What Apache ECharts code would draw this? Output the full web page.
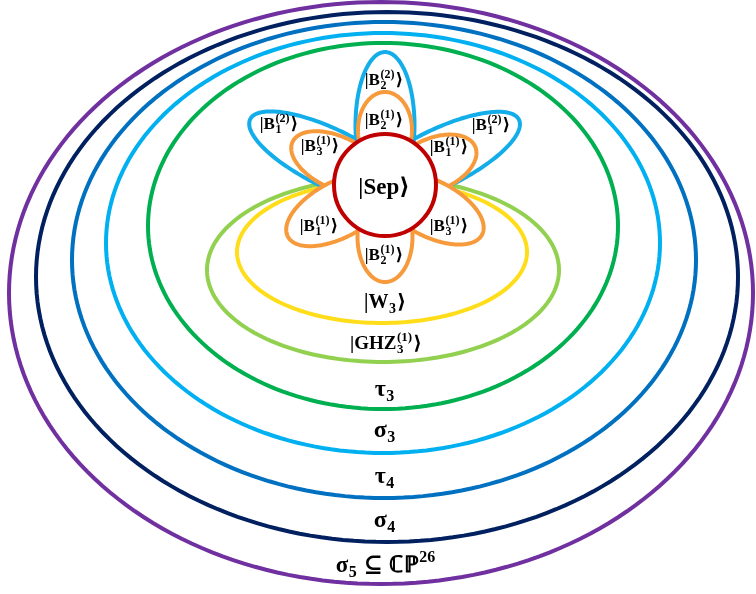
<!DOCTYPE html>
<html><head><meta charset="utf-8">
<script src="https://cdn.jsdelivr.net/npm/echarts@6/dist/echarts.min.js"></script>
<style>html,body{margin:0;padding:0;background:#fff}#c{width:756px;height:594px}</style>
</head><body><div id="c"></div>
<script>
// ---- Nested sets, outer to inner (diagram units: centre x/y, semi-axes) ----
const ringNames = ['σ5', 'σ4', 'τ4', 'σ3', 'τ3', 'GHZ3(1)', 'W3'];
const ringCX = [381, 387, 384, 383, 383, 383, 382];
const ringCY = [293, 277, 260, 243, 226, 270, 252];
const ringRX = [372, 351, 312, 277, 235, 176, 145];
const ringRY = [291, 265, 238, 210, 183, 92, 71];

// ---- Separable core |Sep> ----
const coreCenter = [385, 185];
const coreRadius = [51];

// ---- Petals: direction (deg, screen), centre distance from core, semi-axes, level ----
const petalAngle = [-154, -26, -90, -90, -155, -23, 152, 90, 27];
const petalDist  = [60, 60, 60, 55, 53, 53, 52, 52, 52];
const petalA     = [90, 89, 73, 38, 49, 45, 58, 45, 57];
const petalB     = [29, 29, 29.5, 27, 26, 26, 28, 27.5, 28];
const petalLevel = [2, 2, 2, 1, 1, 1, 1, 1, 1];

// ---- Labels (markup: _{sub} ^{sup}) ----
const labelTexts = ['|Sep⟩', '|B_{2}^{(2)}⟩', '|B_{2}^{(1)}⟩', '|B_{1}^{(2)}⟩', '|B_{1}^{(2)}⟩',
  '|B_{3}^{(1)}⟩', '|B_{1}^{(1)}⟩', '|B_{1}^{(1)}⟩', '|B_{2}^{(1)}⟩', '|B_{3}^{(1)}⟩',
  '|W_{3}⟩', '|GHZ_{3}^{(1)}⟩', 'τ_{3}', 'σ_{3}', 'τ_{4}', 'σ_{4}', 'σ_{5} ⊆ ℂℙ^{26}'];
const labelX = [384, 384, 384, 279, 491, 320, 449, 319, 384, 449, 385, 386, 385, 385, 385, 385, 386];
const labelY = [188, 81, 121, 125, 126, 147, 148, 227, 256, 227, 303, 344, 390, 431, 477, 521, 566];

// ---- styles ----
const ringColors = ['#7030A0', '#002060', '#0070C0', '#00B0F0', '#00B050', '#92D050', '#FFDD1A'];
const levelColors = {1: '#F79A3C', 2: '#13AEEA'};
const coreColor = '#C00000';
const labelSizes = [23, 17, 17, 17, 17, 17, 17, 17, 17, 17, 20, 19, 24, 24, 24, 24, 23];
const FONT = '"Liberation Serif", "DejaVu Serif", serif';

const ringData = ringCX.map((cx, i) => [cx, ringCY[i], ringRX[i], ringRY[i], i]);
const petalData = petalAngle.map((a, i) => [coreCenter[0], coreCenter[1], a, petalDist[i], petalA[i], petalB[i], petalLevel[i]]);
const coreData = [[coreCenter[0], coreCenter[1], coreRadius[0]]];
const labelData = labelX.map((x, i) => [x, labelY[i], i]);

const N = 200;
function ellipsePoints(api, cx, cy, dirDeg, d, a, b) {
  const th = dirDeg * Math.PI / 180, ux = Math.cos(th), uy = Math.sin(th);
  const pts = [];
  for (let k = 0; k < N; k++) {
    const t = 2 * Math.PI * k / N;
    const u = d + a * Math.cos(t), v = b * Math.sin(t);
    pts.push(api.coord([cx + u * ux - v * uy, cy + u * uy + v * ux]));
  }
  return pts;
}

const mctx = document.createElement('canvas').getContext('2d');
function fontStr(s) { return 'bold ' + s + 'px ' + FONT; }
function measure(t, s) { mctx.font = fontStr(s); return mctx.measureText(t).width; }
function parseMarkup(str) {
  const segs = []; let i = 0, buf = '';
  while (i < str.length) {
    if ((str[i] === '_' || str[i] === '^') && str[i + 1] === '{') {
      if (buf) { segs.push({main: buf}); buf = ''; }
      const end = str.indexOf('}', i);
      const val = str.slice(i + 2, end);
      const last = segs[segs.length - 1];
      if (last && last.script && !(str[i] === '_' ? last.sub : last.sup)) {
        if (str[i] === '_') last.sub = val; else last.sup = val;
      } else {
        const sg = {script: true}; if (str[i] === '_') sg.sub = val; else sg.sup = val; segs.push(sg);
      }
      i = end + 1;
    } else { buf += str[i]; i++; }
  }
  if (buf) segs.push({main: buf});
  return segs;
}

const chart = echarts.init(document.getElementById('c'), null, {renderer: 'canvas'});
chart.setOption({
  animation: false,
  backgroundColor: '#fff',
  grid: {left: 0, right: 0, top: 0, bottom: 0},
  xAxis: {type: 'value', min: 0, max: 756, show: false},
  yAxis: {type: 'value', min: 0, max: 594, inverse: true, show: false},
  series: [
    {
      type: 'custom', name: 'rings', z: 1, data: ringData,
      renderItem: (p, api) => ({
        type: 'polygon',
        shape: {points: ellipsePoints(api, api.value(0), api.value(1), 0, 0, api.value(2), api.value(3))},
        style: {fill: 'none', stroke: ringColors[api.value(4)], lineWidth: 4}
      })
    },
    {
      type: 'custom', name: 'petals', z: 3, data: petalData,
      renderItem: (p, api) => ({
        type: 'polygon',
        shape: {points: ellipsePoints(api, api.value(0), api.value(1), api.value(2), api.value(3), api.value(4), api.value(5))},
        style: {fill: '#fff', stroke: levelColors[api.value(6)], lineWidth: 4}
      })
    },
    {
      type: 'custom', name: 'core', z: 5, data: coreData,
      renderItem: (p, api) => {
        const c = api.coord([api.value(0), api.value(1)]);
        const r = Math.abs(api.size([api.value(2), 0])[0]);
        return {type: 'circle', shape: {cx: c[0], cy: c[1], r: r}, style: {fill: '#fff', stroke: coreColor, lineWidth: 4}};
      }
    },
    {
      type: 'custom', name: 'labels', z: 7, data: labelData,
      renderItem: (p, api) => {
        const idx = api.value(2);
        const c = api.coord([api.value(0), api.value(1)]);
        const S = labelSizes[idx], s = Math.round(S * 0.68);
        const segs = parseMarkup(labelTexts[idx]);
        let total = 0;
        segs.forEach(sg => {
          if (sg.main) sg.w = measure(sg.main, S);
          else sg.w = Math.max(sg.sub ? measure(sg.sub, s) : 0, sg.sup ? measure(sg.sup, s) : 0) + 1.5;
          total += sg.w;
        });
        let x = c[0] - total / 2;
        const children = [];
        segs.forEach(sg => {
          if (sg.main) {
            children.push({type: 'text', style: {text: sg.main, x: x, y: c[1], font: fontStr(S), fill: '#000', align: 'left', verticalAlign: 'middle'}});
          } else {
            if (sg.sup) children.push({type: 'text', style: {text: sg.sup, x: x + 0.5, y: c[1] - S * 0.36, font: fontStr(s), fill: '#000', align: 'left', verticalAlign: 'middle'}});
            if (sg.sub) children.push({type: 'text', style: {text: sg.sub, x: x + 0.5, y: c[1] + S * 0.3, font: fontStr(s), fill: '#000', align: 'left', verticalAlign: 'middle'}});
          }
          x += sg.w;
        });
        return {type: 'group', children: children};
      }
    }
  ]
});
</script>
</body></html>
